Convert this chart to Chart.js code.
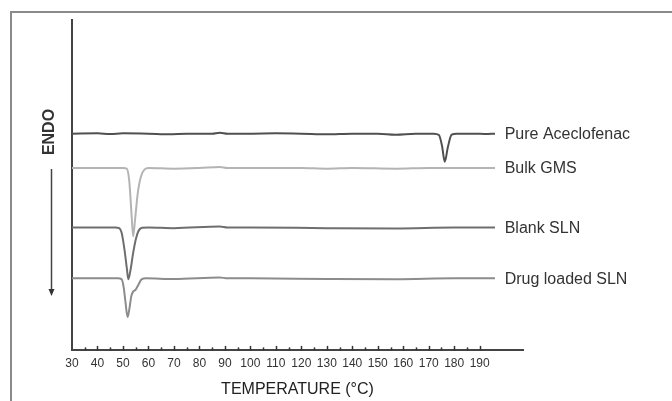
<!DOCTYPE html>
<html>
<head>
<meta charset="utf-8">
<script src="https://cdn.jsdelivr.net/npm/chart.js@4"></script>
<style>
  html, body { margin: 0; padding: 0; background: #fff; }
  #wrap { position: relative; width: 672px; height: 401px; }
</style>
</head>
<body>
<div id="wrap"><canvas id="dsc" width="672" height="401"></canvas></div>
<script>
// ---------- datos (temperatura °C / señal relativa) ----------
const seriesNames = ['Pure Aceclofenac', 'Bulk GMS', 'Blank SLN', 'Drug loaded SLN'];

const pureT = [30, 40, 45, 50, 60, 68, 75, 85, 88, 91, 100, 110, 120, 130, 140, 150, 157, 165, 172, 174, 175.2, 176.3, 177.5, 179, 181, 188, 192, 196];
const pureV = [65.6, 65.7, 65.5, 65.7, 65.6, 65.4, 65.6, 65.6, 65.9, 65.6, 65.6, 65.7, 65.6, 65.4, 65.6, 65.6, 65.3, 65.6, 65.6, 65.2, 62.0, 57.1, 61.5, 65.3, 65.6, 65.6, 65.5, 65.6];

const bulkT = [30, 40, 50, 51.5, 52.5, 53.3, 54, 54.8, 55.8, 57, 58.5, 60, 70, 80, 88, 91, 100, 120, 130, 140, 157, 170, 185, 196];
const bulkV = [55.2, 55.2, 55.2, 55.0, 51.0, 42.0, 34.5, 40.0, 47.5, 52.5, 54.8, 55.2, 55.0, 55.2, 55.5, 55.2, 55.2, 55.2, 55.0, 55.2, 55.0, 55.2, 55.2, 55.2];

const blankT = [30, 40, 47, 48.5, 49.5, 50.5, 51.5, 52.1, 53, 54, 55, 56, 57.5, 60, 70, 88, 91, 100, 130, 157, 180, 196];
const blankV = [37.2, 37.2, 37.2, 37.0, 35.5, 31.0, 25.0, 21.5, 24.5, 29.5, 33.5, 36.0, 37.1, 37.2, 37.0, 37.5, 37.2, 37.2, 37.0, 36.9, 37.2, 37.2];

const drugT = [30, 40, 48, 49.5, 50.3, 51, 51.8, 52.5, 53.3, 54, 55, 56, 57.3, 59, 70, 88, 91, 100, 130, 157, 180, 196];
const drugV = [21.8, 21.8, 21.8, 21.5, 19.0, 14.5, 10.1, 12.5, 16.5, 17.8, 18.4, 19.8, 21.5, 21.8, 21.6, 22.1, 21.8, 21.8, 21.6, 21.5, 21.8, 21.8];

const lineColors = ['#505050', '#b4b4b4', '#6e6e6e', '#8c8c8c'];

const FONT = '"Liberation Sans", Arial, sans-serif';

const toXY = (xs, ys) => xs.map((x, i) => ({ x, y: ys[i] }));

// ---------- plugin: marco, marcas del eje, ENDO y rótulos ----------
const decor = {
  id: 'decor',
  beforeDraw(chart) {
    const ctx = chart.ctx;
    ctx.save();
    ctx.strokeStyle = '#8a8a8a';
    ctx.lineWidth = 2;
    ctx.beginPath();
    ctx.moveTo(11, 401);
    ctx.lineTo(11, 12);
    ctx.lineTo(672, 12);
    ctx.stroke();
    ctx.restore();
  },
  afterDraw(chart) {
    const ctx = chart.ctx;
    const xs = chart.scales.x;
    const ys = chart.scales.y;
    const base = chart.chartArea.bottom;

    ctx.save();
    // marcas hacia dentro, cada 5 °C
    ctx.strokeStyle = '#333';
    ctx.lineWidth = 1.5;
    for (let v = 35; v <= 190; v += 5) {
      const px = Math.round(xs.getPixelForValue(v)) + 0.5;
      const len = v % 10 === 0 ? 4.5 : 3;
      ctx.beginPath();
      ctx.moveTo(px, base);
      ctx.lineTo(px, base - len);
      ctx.stroke();
    }

    // ENDO + flecha
    ctx.fillStyle = '#333';
    ctx.font = 'bold 16px ' + FONT;
    ctx.textAlign = 'center';
    ctx.textBaseline = 'middle';
    ctx.save();
    ctx.translate(50, 132);
    ctx.rotate(-Math.PI / 2);
    ctx.fillText('ENDO', 0, 0);
    ctx.restore();

    ctx.strokeStyle = '#444';
    ctx.lineWidth = 1.5;
    ctx.beginPath();
    ctx.moveTo(51.5, 169);
    ctx.lineTo(51.5, 291);
    ctx.stroke();
    ctx.beginPath();
    ctx.moveTo(48.5, 289);
    ctx.lineTo(54.5, 289);
    ctx.lineTo(51.5, 296);
    ctx.closePath();
    ctx.fill();

    // rótulos de cada curva
    ctx.font = '16px ' + FONT;
    ctx.textAlign = 'left';
    ctx.fillStyle = '#333';
    chart.data.datasets.forEach((ds) => {
      const last = ds.data[ds.data.length - 1];
      ctx.fillText(ds.label, xs.getPixelForValue(199.8), ys.getPixelForValue(last.y) + 1);
    });
    ctx.restore();
  }
};

new Chart(document.getElementById('dsc'), {
  type: 'line',
  data: {
    datasets: [
      { label: seriesNames[0], data: toXY(pureT, pureV), borderColor: lineColors[0] },
      { label: seriesNames[1], data: toXY(bulkT, bulkV), borderColor: lineColors[1] },
      { label: seriesNames[2], data: toXY(blankT, blankV), borderColor: lineColors[2] },
      { label: seriesNames[3], data: toXY(drugT, drugV), borderColor: lineColors[3] }
    ]
  },
  options: {
    responsive: false,
    animation: false,
    events: [],
    layout: { padding: { left: 72, right: 149, top: 20, bottom: 2 } },
    elements: {
      point: { radius: 0 },
      line: { borderWidth: 2, cubicInterpolationMode: 'monotone' }
    },
    plugins: { legend: { display: false }, tooltip: { enabled: false } },
    scales: {
      x: {
        type: 'linear',
        min: 30,
        max: 207,
        grid: { display: false, drawTicks: false, tickLength: 0 },
        border: { display: true, color: '#444', width: 2 },
        ticks: {
          stepSize: 10,
          includeBounds: false,
          autoSkip: false,
          maxRotation: 0,
          padding: 6,
          color: '#333',
          font: { family: FONT, size: 12 },
          callback: (v) => (v % 10 === 0 && v <= 190 ? String(v) : '')
        },
        title: {
          display: true,
          text: 'TEMPERATURE (°C)',
          color: '#222',
          font: { family: FONT, size: 16 },
          padding: { top: 3, bottom: 0 }
        }
      },
      y: {
        min: 0,
        max: 100,
        grid: { display: false, drawTicks: false, tickLength: 0 },
        border: { display: true, color: '#444', width: 2 },
        ticks: { display: false }
      }
    }
  },
  plugins: [decor]
});
</script>
</body>
</html>
